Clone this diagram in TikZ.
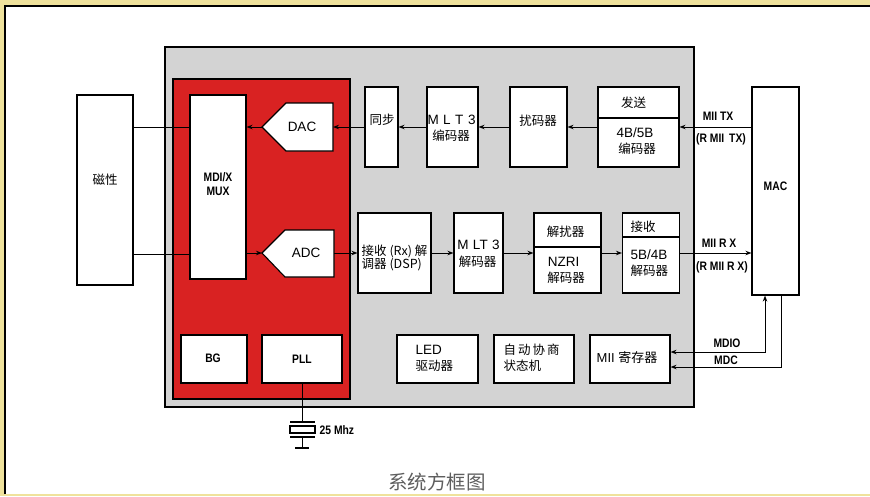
\documentclass[tikz,border=0pt]{standalone}
\usepackage{fontspec}
\setmainfont{Liberation Sans}
\newfontfamily\cjk{Noto Sans CJK SC}
\newfontfamily\cb[FakeStretch=0.84]{Liberation Sans}
\usetikzlibrary{arrows.meta}
\definecolor{frameyel}{HTML}{EFE29C}
\definecolor{chipgray}{HTML}{D3D3D3}
\definecolor{phyred}{HTML}{D92222}
\definecolor{capgray}{HTML}{5E5E5E}
\tikzset{
  box/.style={draw=black, line width=1.1pt, fill=white, inner sep=0pt},
  txt/.style={inner sep=0pt, align=center},
  lat/.style={txt, font=\fontsize{13.5}{15}\selectfont},
  zh/.style={txt, font=\cjk\fontsize{12.5}{15}\selectfont},
  bc/.style={txt, font=\cb\bfseries\fontsize{12.3}{14.5}\selectfont},
  conn/.style={line width=1pt},
  arr/.style={line width=1pt, -{Stealth[length=6pt,width=4.5pt]}},
  arrb/.style={line width=1pt, {Stealth[length=6pt,width=4.5pt]}-{Stealth[length=6pt,width=4.5pt]}}
}
\begin{document}
\begin{tikzpicture}[x=1pt,y=-1pt]
\useasboundingbox (0,0) rectangle (870,496);
% frame
\fill[frameyel] (0,0) rectangle (870,496);
\fill[white] (5,6) rectangle (870,494);
\draw[line width=1.6pt] (5,494) -- (5,6) -- (870,6);
% chip and PHY analog block
\draw[line width=1.1pt, fill=chipgray] (165,47) rectangle (694,407);
\draw[line width=1.1pt, fill=phyred] (173,79) rectangle (350,399);
% magnetics
\node[box, minimum width=56pt, minimum height=190pt] (mag) at (105,190) {};
\node[zh] (magt) at (105,180) {磁性};
% MUX
\node[box, minimum width=56pt, minimum height=184pt] (mux) at (218,187) {};
\node[bc] (muxt1) at (218,177) {MDI/X};
\node[bc] (muxt2) at (218,191.5) {MUX};
% DAC / ADC pentagons
\draw[line width=1.1pt, fill=white] (262,127) -- (286,103) -- (333,103) -- (333,151) -- (286,151) -- cycle;
\coordinate (dactip) at (262,127);
\coordinate (dacr) at (333,127);
\node[lat] (dac) at (302,127) {DAC};
\draw[line width=1.1pt, fill=white] (262,253) -- (285,230) -- (334,230) -- (334,277) -- (285,277) -- cycle;
\coordinate (adctip) at (262,253);
\coordinate (adcr) at (334,253);
\node[lat] (adc) at (306,253) {ADC};
% TX row
\node[box, minimum width=33pt, minimum height=80pt] (sync) at (381.5,127) {};
\node[zh] (synct) at (382,120) {同步};
\node[box, minimum width=51pt, minimum height=80pt] (mlte) at (452.5,127) {};
\node[lat] (mlte1) at (451.5,120) {M\,\,L\,\,T\,\,3};
\node[zh] (mlte2) at (451,135.5) {编码器};
\node[box, minimum width=57pt, minimum height=80pt] (scr) at (538.5,127) {};
\node[zh] (scrt) at (538,121) {扰码器};
\node[box, minimum width=81pt, minimum height=31pt] (txa) at (638.5,102.5) {};
\node[zh] (txat) at (633.5,103) {发送};
\node[box, minimum width=81pt, minimum height=49pt] (txb) at (638.5,142.5) {};
\node[lat] (txb1) at (635,133) {4B/5B};
\node[zh] (txb2) at (637,149) {编码器};
% MAC
\node[box, minimum width=47pt, minimum height=208pt] (mac) at (775.5,191) {};
\node[bc] (mact) at (775.5,186) {MAC};
% RX row
\node[box, minimum width=73pt, minimum height=80pt] (dsp) at (394.5,253) {};
\node[zh, anchor=west] (dsp1) at (361.5,251) {接收 (Rx) 解};
\node[zh, anchor=west] (dsp2) at (361.5,264.5) {调器 (DSP)};
\node[box, minimum width=49pt, minimum height=80pt] (mltd) at (478.5,253) {};
\node[lat] (mltd1) at (478.5,245) {M\,\,LT\,\,3};
\node[zh] (mltd2) at (477.5,262) {解码器};
\node[box, minimum width=67pt, minimum height=34pt] (dsa) at (567.5,230) {};
\node[zh] (dsat) at (565.5,232) {解扰器};
\node[box, minimum width=67pt, minimum height=46pt] (dsb) at (567.5,270) {};
\node[lat] (dsb1) at (563.5,262) {NZRI};
\node[zh] (dsb2) at (566,277.5) {解码器};
\node[box, minimum width=57pt, minimum height=24pt] (rxa) at (651,225) {};
\node[zh] (rxat) at (643,227) {接收};
\node[box, minimum width=57pt, minimum height=56pt] (rxb) at (651,265) {};
\node[lat, anchor=west] (rxb1) at (630.5,254.5) {5B/4B};
\node[zh, anchor=west] (rxb2) at (630.5,271) {解码器};
% bottom row
\node[box, minimum width=66pt, minimum height=48pt] (bg) at (214,359) {};
\node[bc] (bgt) at (213,358) {BG};
\node[box, minimum width=80pt, minimum height=48pt] (pll) at (302,359) {};
\node[bc] (pllt) at (302,359.5) {PLL};
\node[box, minimum width=81pt, minimum height=48pt] (led) at (437.5,359) {};
\node[lat, anchor=west] (led1) at (415.5,350) {LED};
\node[zh, anchor=west] (led2) at (415.5,365.5) {驱动器};
\node[box, minimum width=80pt, minimum height=48pt] (ane) at (534,359) {};
\node[zh, anchor=west] (ane1) at (503.5,350) {自\kern2pt 动\kern2pt 协\kern2pt 商};
\node[zh, anchor=west] (ane2) at (503.5,365.5) {状态机};
\node[box, minimum width=80pt, minimum height=48pt] (mreg) at (630,359) {};
\node[txt, font=\fontsize{13}{15}\selectfont] (mregt) at (627,358) {MII {\cjk 寄存器}};
% crystal
\coordinate (xtop) at (302,422);
\coordinate (xbot) at (302,437);
\coordinate (gnd) at (302,448);
\draw[conn] (pll.south) -- (xtop);
\draw[line width=1.1pt] (290,422) -- (315,422);
\draw[line width=1.1pt] (290,426) rectangle (315,433);
\draw[line width=1.1pt] (290,437) -- (315,437);
\draw[conn] (xbot) -- (gnd);
\draw[line width=1.1pt] (295,448) -- (309,448);
\node[bc, anchor=west] (xtal) at (319.5,430) {25 Mhz};
% magnetics links
\draw[conn] (mag.east |- 0,127) -- (mux.west |- 0,127);
\draw[conn] (mag.east |- 0,254) -- (mux.west |- 0,254);
% TX path
\draw[arr] (dactip) -- (mux.east |- dactip);
\draw[arr] (sync.west |- dacr) -- (dacr);
\draw[arr] (mlte.west) -- (sync.east);
\draw[arr] (scr.west) -- (mlte.east);
\draw[arr] (txb.west |- scr.west) -- (scr.east);
\draw[arr] (mac.west |- 0,127) -- (txb.east |- 0,127);
% RX path
\draw[arr] (mux.east |- adctip) -- (adctip);
\draw[arr] (adcr) -- (dsp.west |- adcr);
\draw[arr] (dsp.east) -- (mltd.west);
\draw[arr] (mltd.east) -- (dsb.west |- mltd.east);
\draw[arr] (dsb.east |- mltd.east) -- (rxb.west |- mltd.east);
\draw[arr] (rxb.east |- 0,253) -- (mac.west |- 0,253);
% MII labels
\node[bc] (miitx) at (718,116) {MII TX};
\node[bc] (rmiitx) at (721,139) {(R MII\, TX)};
\node[bc] (miirx) at (719,243) {MII R X};
\node[bc] (rmiirx) at (722,267) {(R MII R X)};
% management
\coordinate (mdioc) at (765,352);
\coordinate (mdcc) at (781,367);
\draw[arrb] (mreg.east |- mdioc) -- (mdioc) -- (mac.south -| mdioc);
\draw[arr] (mac.south -| mdcc) -- (mdcc) -- (mreg.east |- mdcc);
\node[bc] (mdio) at (727,343) {MDIO};
\node[bc] (mdc) at (726,360) {MDC};
% caption
\node[txt, text=capgray, font=\cjk\fontsize{19.5}{21}\selectfont] (cap) at (437,482) {系统方框图};
\end{tikzpicture}
\end{document}
